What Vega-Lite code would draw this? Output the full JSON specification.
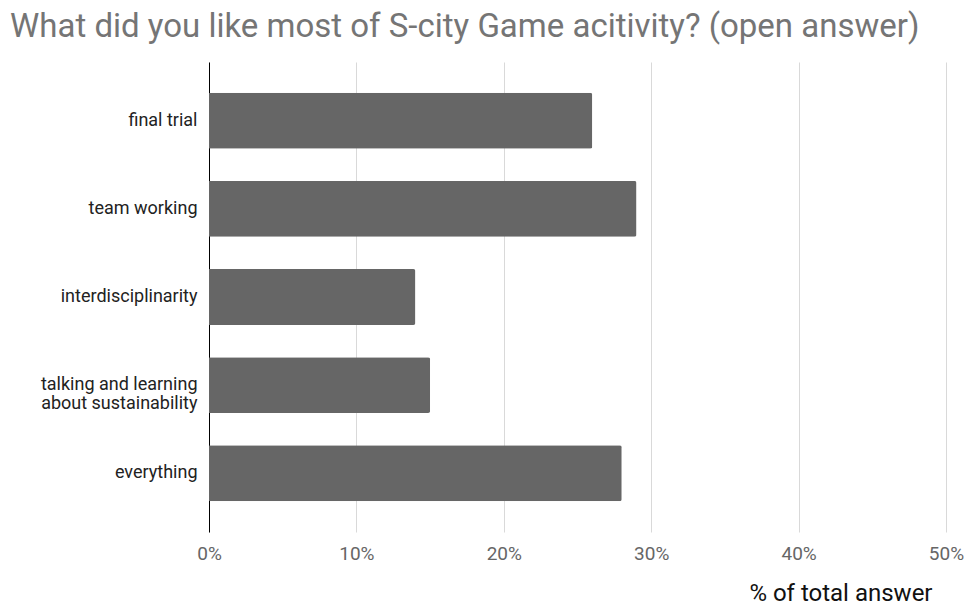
{
  "$schema": "https://vega.github.io/schema/vega-lite/v6.json",
  "autosize": {"type": "none"},
  "width": 737,
  "height": 470,
  "padding": {"left": 209, "top": 62, "right": 22, "bottom": 74},
  "background": "white",
  "title": {
    "text": "What did you like most of S-city Game acitivity? (open answer)",
    "anchor": "start",
    "frame": "group",
    "dx": -199,
    "offset": 18,
    "font": "Roboto",
    "fontSize": 33,
    "fontWeight": "normal",
    "color": "#757575"
  },
  "data": {
    "values": [
      {"category": "final trial", "pct": 0.26},
      {"category": "team working", "pct": 0.29},
      {"category": "interdisciplinarity", "pct": 0.14},
      {"category": "talking and learning about sustainability", "pct": 0.15},
      {"category": "everything", "pct": 0.28}
    ]
  },
  "mark": {"type": "bar", "color": "#666666", "cornerRadiusEnd": 2},
  "encoding": {
    "y": {
      "field": "category",
      "type": "nominal",
      "sort": null,
      "scale": {"paddingInner": 0.365, "paddingOuter": 0.35},
      "axis": {
        "title": null,
        "ticks": false,
        "domain": true,
        "domainColor": "#000000",
        "domainWidth": 1,
        "labelFont": "Roboto",
        "labelFontSize": 18,
        "labelColor": "#222222",
        "labelPadding": 12,
        "labelLimit": 300,
        "labelLineHeight": 19,
        "labelExpr": "datum.value == 'talking and learning about sustainability' ? ['talking and learning', 'about sustainability'] : datum.value"
      }
    },
    "x": {
      "field": "pct",
      "type": "quantitative",
      "scale": {"domain": [0, 0.5], "nice": false},
      "axis": {
        "format": ".0%",
        "values": [0, 0.1, 0.2, 0.3, 0.4, 0.5],
        "ticks": false,
        "domain": false,
        "grid": true,
        "gridColor": "#d9d9d9",
        "gridWidth": 1,
        "labelOverlap": false,
        "labelFlush": false,
        "labelBound": false,
        "labelFont": "Roboto",
        "labelFontSize": 19,
        "labelColor": "#666666",
        "labelPadding": 12,
        "title": "% of total answer",
        "titleFont": "Roboto",
        "titleFontSize": 24,
        "titleFontWeight": "normal",
        "titleColor": "#111111",
        "titleAlign": "right",
        "titleAnchor": null,
        "titleX": 723,
        "titleY": 68,
        "titleBaseline": "alphabetic"
      }
    }
  },
  "config": {"view": {"stroke": null}}
}
